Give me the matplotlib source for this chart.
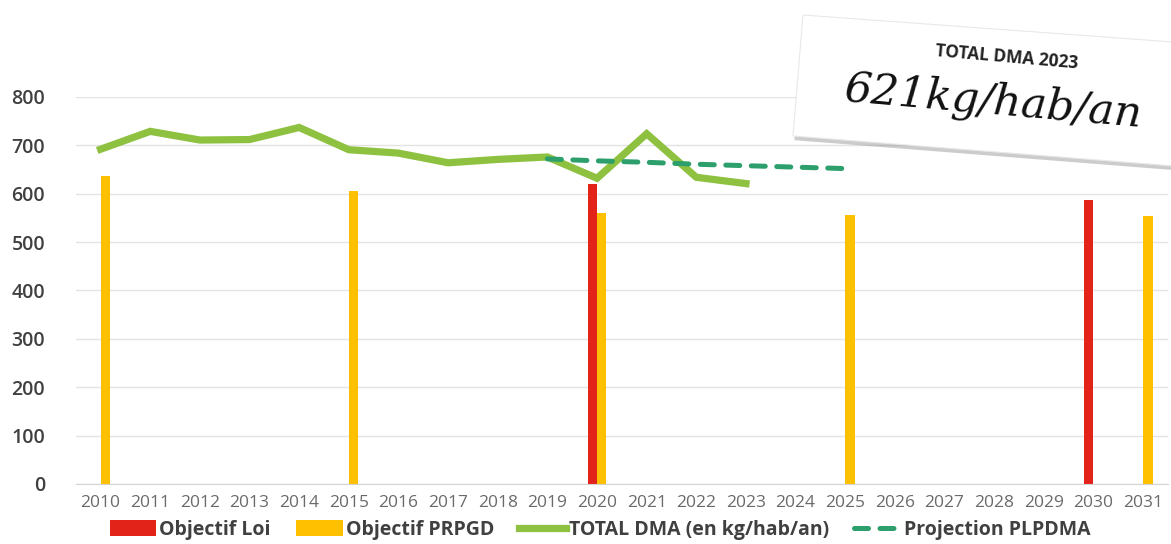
import matplotlib.pyplot as plt
from matplotlib.patches import Polygon
import matplotlib.patheffects as pe
import numpy as np

years = [str(y) for y in range(2010, 2032)]

# objectif loi (rouge) et objectif PRPGD (jaune)
objectif_loi = {"2020": 621, "2030": 588}
objectif_prpgd = {"2010": 636, "2015": 605, "2020": 561, "2025": 557, "2031": 553}

total_years = ["2010", "2011", "2012", "2013", "2014", "2015", "2016",
               "2017", "2018", "2019", "2020", "2021", "2022", "2023"]
total_dma = [692, 729, 711, 712, 737, 691, 684, 664, 671, 676, 632, 724, 634, 621]

proj_years = ["2019", "2020", "2021", "2022", "2023", "2024", "2025"]
proj_plpdma = [672, 668, 665, 661, 658, 655, 652]

RED = "#E2231A"
YELLOW = "#FFC000"
GREEN = "#8DC13F"
TEAL = "#2C9F6C"
DARK = "#404040"

fig = plt.figure(figsize=(11.71, 5.44), dpi=100)
ax = fig.add_axes([0.0647, 0.1103, 0.9327, 0.7114])

x = np.arange(len(years))
pos = {y: i for i, y in enumerate(years)}
w = 0.19

loi_x = [pos[y] - w / 2 for y in objectif_loi]
prpgd_x = [pos[y] + w / 2 for y in objectif_prpgd]
b1 = ax.bar(loi_x, list(objectif_loi.values()), width=w, color=RED, label="Objectif Loi", zorder=2)
b2 = ax.bar(prpgd_x, list(objectif_prpgd.values()), width=w, color=YELLOW, label="Objectif PRPGD", zorder=2)

l1, = ax.plot([pos[y] for y in total_years], total_dma, color=GREEN, lw=5.2,
              solid_joinstyle="miter", label="TOTAL DMA (en kg/hab/an)", zorder=3)
l2, = ax.plot([pos[y] for y in proj_years], proj_plpdma, color=TEAL, lw=3.6,
              linestyle=(0, (2.8, 2.3)), dash_capstyle="round", label="Projection PLPDMA", zorder=4)

ax.set_xlim(-0.5, len(years) - 0.5)
ax.set_ylim(0, 800)
ax.set_yticks(range(0, 900, 100))
ax.set_xticks(x)
ax.set_xticklabels(years)
ax.grid(axis="y", color="#E3E3E3", lw=1, zorder=0)
ax.set_axisbelow(True)
for s in ["top", "right", "left"]:
    ax.spines[s].set_visible(False)
ax.spines["bottom"].set_color("#D4D4D4")
ax.tick_params(length=0)
ax.tick_params(axis="y", labelsize=14, labelcolor=DARK, pad=22)
ax.tick_params(axis="x", labelsize=12.5, labelcolor="#6A6A6A", pad=8)
for lab in ax.get_yticklabels():
    lab.set_fontfamily("Open Sans")
    lab.set_fontweight("semibold")
for lab in ax.get_xticklabels():
    lab.set_fontfamily("Open Sans")

leg = ax.legend([b1, b2, l1, l2], [h.get_label() for h in [b1, b2, l1, l2]],
                loc="upper center", bbox_to_anchor=(0.48, -0.068), ncol=4, frameon=False,
                prop={"family": "Open Sans", "weight": "bold", "size": 14},
                handlelength=2.4, handleheight=0.9, handletextpad=0.15, columnspacing=1.3,
                borderpad=0)
for t in leg.get_texts():
    t.set_color(DARK)

# carte "TOTAL DMA 2023"
card = Polygon([(0.6857, 0.9724), (1.002, 0.9228), (1.002, 0.6949), (0.6772, 0.750)],
               closed=True, transform=fig.transFigure, facecolor="white", edgecolor="#E8E8E8",
               lw=0.8, zorder=10)
card.set_path_effects([pe.SimplePatchShadow(offset=(1, -3), shadow_rgbFace="#9A9A9A", alpha=0.5),
                       pe.Normal()])
fig.patches.append(card)
fig.text(0.860, 0.895, "TOTAL DMA 2023", fontsize=12.5, fontweight="bold", family="Open Sans",
         color="#222222", rotation=-5, ha="center", va="center", zorder=11)
fig.text(0.848, 0.812, "621kg/hab/an", fontsize=31, fontstyle="italic", family="DejaVu Serif",
         color="#111111", rotation=-5, ha="center", va="center", zorder=11)

fig.savefig("out.png", dpi=100)
